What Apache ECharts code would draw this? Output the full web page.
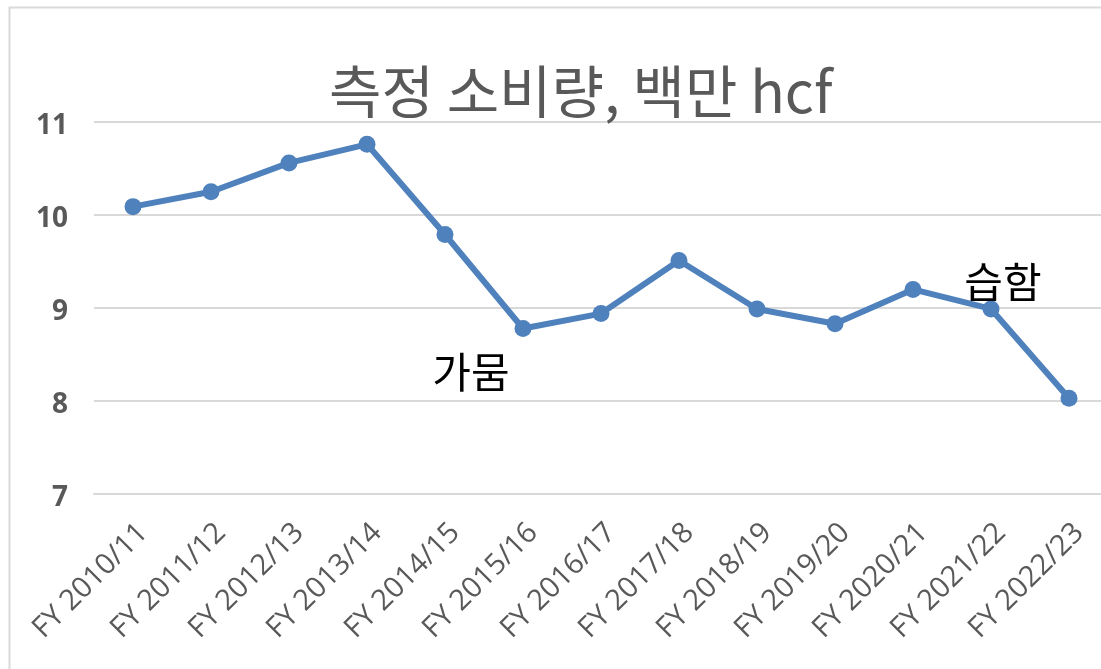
<!DOCTYPE html>
<html>
<head>
<meta charset="utf-8">
<title>측정 소비량</title>
<script src="https://cdn.jsdelivr.net/npm/echarts@6/dist/echarts.min.js"></script>
<style>
    html, body { margin: 0; padding: 0; background: #fff; }
    #chart { width: 1101px; height: 669px; }
</style>
</head>
<body>
<div id="chart"></div>
<script>
// 회계연도
const years = ['FY 2010/11', 'FY 2011/12', 'FY 2012/13', 'FY 2013/14', 'FY 2014/15', 'FY 2015/16', 'FY 2016/17',
    'FY 2017/18', 'FY 2018/19', 'FY 2019/20', 'FY 2020/21', 'FY 2021/22', 'FY 2022/23'];
// 측정 소비량 (백만 hcf)
const usage = [10.09, 10.25, 10.56, 10.76, 9.79, 8.78, 8.94, 9.51, 8.99, 8.83, 9.20, 8.99, 8.03];
// 주석
const notes = ['', '', '', '', '', '가뭄', '', '', '', '', '', '습함', ''];
const yTicks = [7, 8, 9, 10, 11];

let grey = '#595959',
    blue = '#4f81bd',
    noteOffset = { '가뭄': [-52, 44], '습함': [12, -27] };

let seriesData = usage.map((v, i) => {
    let item = { value: v };
    if (notes[i]) {
        item.label = {
            show: true,
            formatter: notes[i],
            position: 'inside',
            offset: noteOffset[notes[i]],
            color: '#000',
            fontSize: 42,
            fontFamily: '"Noto Sans CJK KR", sans-serif'
        };
    }
    return item;
});

let chart = echarts.init(document.getElementById('chart'));
chart.setOption({
    animation: false,
    backgroundColor: '#fff',
    title: {
        text: '측정 소비량, 백만 hcf',
        left: 324,
        top: 58,
        textStyle: {
            color: grey,
            fontSize: 57,
            fontWeight: 'normal',
            fontFamily: '"Noto Sans CJK KR", sans-serif'
        }
    },
    graphic: [{
        type: 'rect',
        shape: { x: 9.5, y: 7.5, width: 1200, height: 800 },
        style: { fill: 'none', stroke: '#d9d9d9', lineWidth: 2 },
        silent: true
    }],
    grid: { left: 94, top: 122, width: 1014, height: 372, outerBoundsMode: 'none' },
    xAxis: {
        type: 'category',
        data: years,
        boundaryGap: true,
        axisLine: { show: true, lineStyle: { color: '#d9d9d9', width: 2 } },
        axisTick: { show: false },
        axisLabel: {
            rotate: 45,
            interval: 0,
            margin: 24,
            verticalAlign: 'top',
            color: grey,
            fontSize: 29,
            fontFamily: '"Open Sans", sans-serif'
        }
    },
    yAxis: {
        type: 'value',
        min: yTicks[0],
        max: yTicks[yTicks.length - 1],
        interval: 1,
        axisLine: { show: false },
        axisTick: { show: false },
        splitLine: { lineStyle: { color: '#d9d9d9', width: 2 } },
        axisLabel: {
            margin: 26,
            verticalAlign: 'top',
            lineHeight: 9,
            color: grey,
            fontSize: 28,
            fontWeight: 'bold',
            fontFamily: '"Open Sans", sans-serif'
        }
    },
    series: [{
        type: 'line',
        data: seriesData,
        symbol: 'circle',
        symbolSize: 17,
        lineStyle: { color: blue, width: 6 },
        itemStyle: { color: blue },
        label: { show: false }
    }]
});
</script>
</body>
</html>
